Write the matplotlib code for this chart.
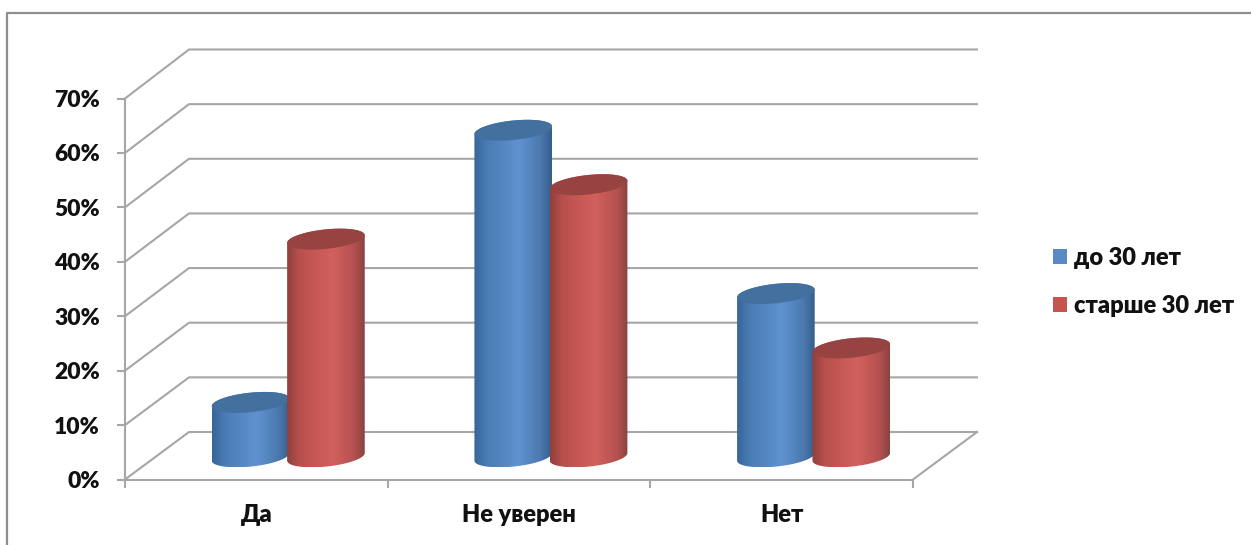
import numpy as np
import matplotlib
matplotlib.use('Agg')
import matplotlib.pyplot as plt
from matplotlib.colors import LinearSegmentedColormap
from matplotlib.lines import Line2D
from matplotlib.patches import Patch, Polygon

plt.rcParams['font.family'] = ['Lato', 'Open Sans', 'DejaVu Sans']
plt.rcParams['font.weight'] = 'heavy'

categories = ['Да', 'Не уверен', 'Нет']
under_30 = [10, 60, 30]
over_30 = [40, 50, 20]
series_names = ['до 30 лет', 'старше 30 лет']
y_ticks = [0, 10, 20, 30, 40, 50, 60, 70]

GRID = '#a6a6a6'
TEXT = '#111111'

fig = plt.figure(figsize=(12.51, 5.45), dpi=100)
ax = fig.add_axes([125 / 1251, 1 - 479.5 / 545, 788 / 1251, 381 / 545])
ax.patch.set_alpha(0)

# scale of the axes in pixels, used for the fake 3d depth
px_x = 788 / 3
px_y = 381 / 70
depth_x = 64 / px_x
depth_y = 47.5 / px_y
back_scale = 382.5 / 381
ELL_A, ELL_B, TILT = 39, 9.7, np.radians(6.0)


def ellipse_points(cx, cy, t):
    # tilted ellipse, sizes in pixels, result in data units
    x = ELL_A * np.cos(t) * np.cos(TILT) - ELL_B * np.sin(t) * np.sin(TILT)
    y = ELL_A * np.cos(t) * np.sin(TILT) + ELL_B * np.sin(t) * np.cos(TILT)
    return cx + x / px_x, cy + y / px_y


def draw_cylinder(cx, value, cmap, top_color, z):
    base_y = depth_y / 2 - 0.2
    top_y = base_y + value
    # t where the ellipse reaches its left and right ends
    t0 = np.arctan2(-ELL_B * np.sin(TILT), ELL_A * np.cos(TILT))
    t_low = np.linspace(t0 + np.pi, t0 + 2 * np.pi, 60)
    t_up = np.linspace(t0, t0 + np.pi, 60)
    bx, by = ellipse_points(cx, base_y, t_low)
    ux, uy = ellipse_points(cx, top_y, t_up)
    verts = np.column_stack([np.r_[bx, ux], np.r_[by, uy]])
    body = Polygon(verts, closed=True, facecolor='none', edgecolor='none', zorder=z)
    ax.add_patch(body)
    shade = np.linspace(0, 1, 128).reshape(1, -1)
    img = ax.imshow(shade, cmap=cmap, aspect='auto', zorder=z, interpolation='bilinear',
                    extent=[verts[:, 0].min(), verts[:, 0].max(), verts[:, 1].min(), verts[:, 1].max()],
                    clip_on=True)
    img.set_clip_path(body)
    tx, ty = ellipse_points(cx, top_y, np.linspace(0, 2 * np.pi, 120))
    ax.add_patch(Polygon(np.column_stack([tx, ty]), closed=True, facecolor=top_color,
                         edgecolor='none', zorder=z + 0.1, clip_on=False))


blue_map = LinearSegmentedColormap.from_list('b', [(0, '#38659a'), (0.16, '#4a7cb4'), (0.58, '#5f93d0'),
                                                   (0.86, '#4a78ae'), (1, '#375e8c')])
red_map = LinearSegmentedColormap.from_list('r', [(0, '#8f403e'), (0.16, '#b9504d'), (0.58, '#d2605d'),
                                                  (0.86, '#b55250'), (1, '#8a4341')])

# back wall, side wall and floor lines
for v in y_ticks:
    back = v * back_scale + depth_y
    ax.add_line(Line2D([0, depth_x, 3 + depth_x], [v, back, back],
                       color=GRID, lw=1.5, clip_on=False, zorder=1))
ax.add_line(Line2D([3, 3 + depth_x], [0, depth_y], color=GRID, lw=1.5, clip_on=False, zorder=1))

for i in range(len(categories)):
    draw_cylinder(i + 0.478, under_30[i], blue_map, '#44709f', 3 + i)
    draw_cylinder(i + 0.765, over_30[i], red_map, '#964342', 3.5 + i)

ax.set_xlim(0, 3)
ax.set_ylim(0, 70)
ax.set_xticks([0, 1, 2, 3])
ax.set_xticklabels([])
ax.set_xticks([0.5, 1.5, 2.5], categories, minor=True)
ax.set_yticks(y_ticks, [f'{v}%' for v in y_ticks])
ax.tick_params(axis='x', which='major', length=6, width=1.5, color=GRID)
ax.tick_params(axis='x', which='minor', length=0, pad=18, labelsize=17, labelcolor=TEXT)
ax.tick_params(axis='y', length=6, width=1.5, color=GRID, pad=12, labelsize=16.5, labelcolor=TEXT)
for side in ['top', 'right']:
    ax.spines[side].set_visible(False)
for side in ['left', 'bottom']:
    ax.spines[side].set_color(GRID)
    ax.spines[side].set_linewidth(1.5)

handles = [Patch(facecolor='#5a8ac6', edgecolor='none'), Patch(facecolor='#c5544f', edgecolor='none')]
fig.legend(handles, series_names, loc='center left', bbox_to_anchor=(1053 / 1251, 1 - 282 / 545),
           frameon=False, fontsize=17, labelcolor=TEXT, handlelength=0.6, handleheight=0.6,
           handletextpad=0.3, labelspacing=1.08, borderpad=0, borderaxespad=0)

# outer frame of the picture: only top and left are visible
fig.add_artist(Line2D([7 / 1251, 7 / 1251, 1], [0, 1 - 12.5 / 545, 1 - 12.5 / 545],
                      color='#8e8e8e', lw=1.6, transform=fig.transFigure))

fig.savefig('out.png', dpi=100)
